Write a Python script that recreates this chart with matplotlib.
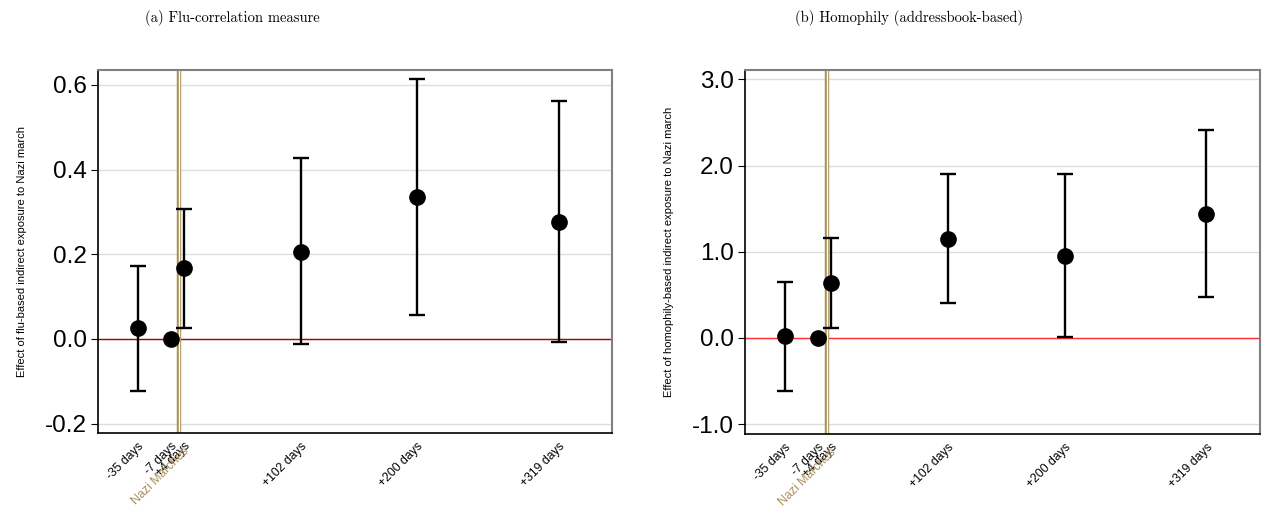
import matplotlib
matplotlib.use("Agg")
import matplotlib.pyplot as plt
import matplotlib.transforms as mtransforms

days = [-35, -7, 4, 102, 200, 319]
tick_labels = ["-35 days", "-7 days", "+4 days", "+102 days", "+200 days", "+319 days"]

flu_est = [0.025, 0.0, 0.167, 0.205, 0.335, 0.277]
flu_lo = [-0.123, 0.0, 0.025, -0.013, 0.057, -0.007]
flu_hi = [0.173, 0.0, 0.307, 0.427, 0.613, 0.562]

hom_est = [0.02, 0.0, 0.64, 1.15, 0.95, 1.44]
hom_lo = [-0.61, 0.0, 0.12, 0.40, 0.01, 0.47]
hom_hi = [0.65, 0.0, 1.16, 1.90, 1.90, 2.41]

flu_yticks = [-0.2, 0.0, 0.2, 0.4, 0.6]
hom_yticks = [-1.0, 0.0, 1.0, 2.0, 3.0]

march_day = 0
march_label = "Nazi Marches"

W, H = 1262, 511
fig = plt.figure(figsize=(W / 100, H / 100), dpi=100)

tan = "#A89058"
sans = "Liberation Sans"


def panel(rect, est, lo, hi, yticks, ylim, ylabel, zero_color, labelpad):
    ax = fig.add_axes(rect)
    ax.set_xlim(-68.5, 364)
    ax.set_ylim(*ylim)
    for y in yticks:
        ax.axhline(y, color="#DEDEDE", lw=1.0, zorder=0)
    ax.axhline(0, color=zero_color, lw=1.0, zorder=1)
    ax.axvline(march_day, color=tan, lw=3.2, zorder=2)
    ax.axvline(march_day, color="white", lw=1.0, zorder=2.1)
    for d, e, l, h in zip(days, est, lo, hi):
        if h != l:
            ax.errorbar([d], [e], yerr=[[e - l], [h - e]], fmt="none",
                        ecolor="black", elinewidth=1.7, capsize=6,
                        capthick=1.7, zorder=3)
    ax.plot(days, est, "o", color="black", markersize=11, zorder=4)
    ax.set_yticks(yticks)
    ax.set_yticklabels([f"{y:.1f}" for y in yticks], fontsize=17.5, family=sans)
    ax.set_xticks(days)
    ax.set_xticklabels(tick_labels, rotation=45, ha="right",
                       rotation_mode="anchor", fontsize=8.8, family=sans)
    ax.tick_params(axis="x", length=0, pad=5)
    ax.tick_params(axis="y", length=5, width=0.8, direction="out", pad=3)
    for s in ["top", "right"]:
        ax.spines[s].set_color("#808080")
        ax.spines[s].set_linewidth(1.5)
    for s in ["left", "bottom"]:
        ax.spines[s].set_color("black")
        ax.spines[s].set_linewidth(1.2)
    ax.set_ylabel(ylabel, fontsize=8, family=sans, labelpad=labelpad)
    trans = mtransforms.blended_transform_factory(ax.transData, ax.transAxes)
    ax.text(march_day + 3, -0.035, march_label, transform=trans, rotation=45,
            ha="right", va="top", rotation_mode="anchor", fontsize=8.8,
            family=sans, color=tan)
    return ax


ax1 = panel([98 / W, (H - 433) / H, 514 / W, 363 / H], flu_est, flu_lo, flu_hi,
            flu_yticks, (-0.222, 0.635),
            "Effect of flu-based indirect exposure to Nazi march", "#B00000", 13)
ax2 = panel([745 / W, (H - 434) / H, 515 / W, 364 / H], hom_est, hom_lo, hom_hi,
            hom_yticks, (-1.114, 3.108),
            "Effect of homophily-based indirect exposure to Nazi march", "#FF3030", 13)

fig.text(232 / W, 1 - 18 / H, "(a) Flu-correlation measure", ha="center",
         va="center", fontsize=10.5, family="cmr10")
fig.text(909 / W, 1 - 18 / H, "(b) Homophily (addressbook-based)", ha="center",
         va="center", fontsize=10.5, family="cmr10")

fig.savefig("out.png", dpi=100)
